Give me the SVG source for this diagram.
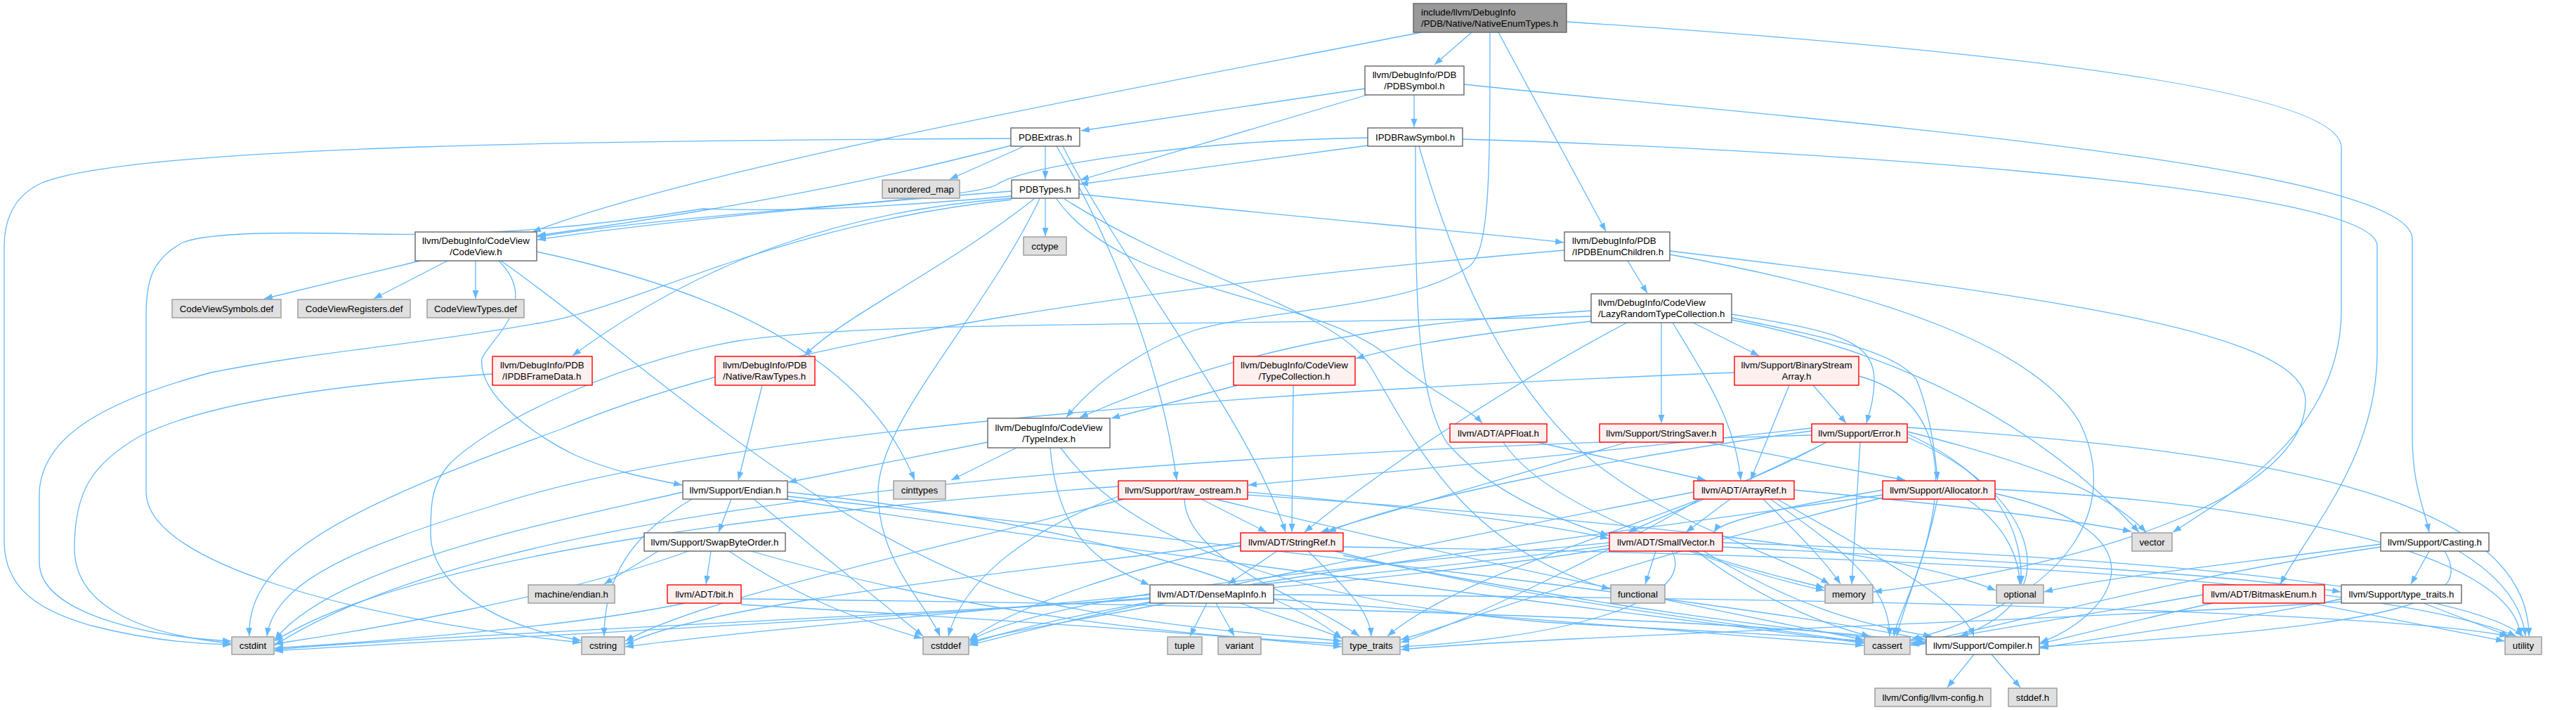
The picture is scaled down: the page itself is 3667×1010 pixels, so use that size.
<svg xmlns="http://www.w3.org/2000/svg" width="3667" height="1010" viewBox="0 0 3667 1010">
<style>
.e{fill:none;stroke:#63b8ff;stroke-width:1.3;marker-end:url(#a)}
.w{fill:#ffffff;stroke:#666666;stroke-width:1.4}
.g{fill:#e0e0e0;stroke:#999999;stroke-width:1.4}
.r{fill:#fff0f0;stroke:#ff0000;stroke-width:1.4}
.m{fill:#999999;stroke:#666666;stroke-width:1.4}
text{font-family:"Liberation Sans",Arial,sans-serif;font-size:13.3px;fill:#000000;text-anchor:middle}
text.l{text-anchor:start}
</style>
<defs>
<marker id="a" markerWidth="12" markerHeight="9" refX="12" refY="4.5" orient="auto" markerUnits="userSpaceOnUse"><path d="M0,0L12,4.5L0,9z" fill="#63b8ff"/></marker>
</defs>
<rect width="3667" height="1010" fill="#ffffff"/>
<g id="edges">
<path class="e" d="M2023,46 C1700,110 1000,235 758,330"/>
<path class="e" d="M2095,46 L2042,92"/>
<path class="e" d="M2121,46 C2121,250 2121,360 2090,380 C2000,440 1800,440 1700,470 C1640,490 1560,540 1518,594"/>
<path class="e" d="M2133,46 L2286,329"/>
<path class="e" d="M2230,31 C2600,55 3333,110 3333,210 L3333,440 C3333,600 3200,690 3093,757"/>
<path class="e" d="M1943,126 L1539,186"/>
<path class="e" d="M2013,135 L2013,181"/>
<path class="e" d="M1946,135 L1538,256"/>
<path class="e" d="M2084,120 C2500,165 3434,230 3434,340 L3434,620 C3434,690 3450,720 3458,757"/>
<path class="e" d="M1458,208 L1352,255"/>
<path class="e" d="M1488,208 L1488,255"/>
<path class="e" d="M1439,197 C900,200 200,205 60,260 C15,280 6,320 6,350 L6,770 C6,840 60,870 130,890 C200,908 270,916 329,917"/>
<path class="e" d="M1439,207 C1200,270 950,310 765,335"/>
<path class="e" d="M1504,208 C1570,320 1650,500 1675,683"/>
<path class="e" d="M1513,208 C1600,380 1780,600 1830,757"/>
<path class="e" d="M1947,207 L1537,262"/>
<path class="e" d="M1947,196 C1700,200 1460,235 1420,262 C1390,285 1000,300 765,337"/>
<path class="e" d="M2015,208 C2015,420 2015,560 2060,630 C2120,700 2220,740 2290,762"/>
<path class="e" d="M2020,208 C2080,420 2160,560 2260,650 C2380,750 2540,790 2604,831"/>
<path class="e" d="M2082,198 C2500,210 3384,260 3384,350 L3384,500 C3384,650 3290,750 3246,831"/>
<path class="e" d="M1488,282 L1488,336"/>
<path class="e" d="M1440,272 C1200,290 900,320 765,341"/>
<path class="e" d="M1536,276 C1800,305 2100,330 2226,345"/>
<path class="e" d="M1440,282 C1200,300 1000,370 815,506"/>
<path class="e" d="M1472,283 C1350,380 1200,450 1145,506"/>
<path class="e" d="M1504,283 C1600,420 1880,420 1980,510 C2040,560 2090,580 2110,602"/>
<path class="e" d="M1515,283 C1700,400 1900,440 1950,520 C2010,620 2080,780 2292,838"/>
<path class="e" d="M1440,284 C1100,320 900,440 765,460 C600,490 450,500 300,530 C150,570 60,620 56,700 L56,800 C56,870 200,905 329,912"/>
<path class="e" d="M1440,279 C1200,300 1100,300 1000,297 C800,330 650,335 530,333 C400,330 300,330 260,345 C215,370 208,400 208,450 L208,700 C208,800 500,880 827,914"/>
<path class="e" d="M1480,283 C1400,450 1250,600 1250,700 C1250,800 1320,860 1338,905"/>
<path class="e" d="M598,371 L376,425"/>
<path class="e" d="M637,371 L532,425"/>
<path class="e" d="M677,371 L677,425"/>
<path class="e" d="M710,371 C770,430 700,480 686,510 C680,560 760,620 820,648 C870,670 920,680 971,690"/>
<path class="e" d="M713,371 C900,500 1200,790 1500,860 C1700,900 1850,905 1910,912"/>
<path class="e" d="M764,358 C960,400 1220,480 1302,683"/>
<path class="e" d="M701,532 C500,545 300,570 200,620 C130,660 106,700 106,780 C106,870 220,905 329,915"/>
<path class="e" d="M1085,548 L1051,683"/>
<path class="e" d="M2317,371 L2345,417"/>
<path class="e" d="M2227,356 C1700,400 1100,480 800,610 C500,720 350,790 355,905"/>
<path class="e" d="M2377,357 C2900,420 3282,470 3282,570 C3282,700 3000,800 2667,842"/>
<path class="e" d="M2377,362 C2700,420 2900,500 2960,600 C3020,720 2950,850 2720,910"/>
<path class="e" d="M2265,457 C2100,475 2000,490 1930,510"/>
<path class="e" d="M2265,442 C2000,460 1800,480 1537,594"/>
<path class="e" d="M2316,459 C2200,520 2000,640 1857,757"/>
<path class="e" d="M2365,459 L2365,602"/>
<path class="e" d="M2381,459 C2430,540 2470,600 2478,683"/>
<path class="e" d="M2410,459 L2504,506"/>
<path class="e" d="M2465,447 C2600,470 2668,480 2668,540 C2668,570 2660,590 2657,602"/>
<path class="e" d="M2465,452 C2600,480 2700,500 2728,540 C2745,580 2755,640 2758,683"/>
<path class="e" d="M2465,455 C2700,500 2900,600 3045,757"/>
<path class="e" d="M2265,450 C1700,465 1250,455 1050,485 C880,515 700,600 640,660 C613,690 613,720 613,760 C613,830 700,890 827,911"/>
<path class="e" d="M1762,548 L1582,595"/>
<path class="e" d="M1841,548 L1839,757"/>
<path class="e" d="M2547,548 L2492,683"/>
<path class="e" d="M2581,548 L2628,602"/>
<path class="e" d="M2469,530 C1700,560 1000,620 700,720 C500,780 390,830 380,905"/>
<path class="e" d="M2646,535 C2740,560 2780,640 2740,780 C2720,850 2700,880 2696,905"/>
<path class="e" d="M1406,629 C1300,650 1200,670 1122,686"/>
<path class="e" d="M1447,637 L1354,683"/>
<path class="e" d="M1495,637 C1505,760 1560,800 1636,832"/>
<path class="e" d="M1510,637 C1620,790 1900,860 2200,885 C2450,900 2600,905 2653,912"/>
<path class="e" d="M1041,710 L1023,757"/>
<path class="e" d="M972,700 C800,740 480,800 391,910"/>
<path class="e" d="M985,710 C900,760 860,820 860,905"/>
<path class="e" d="M1073,710 L1314,905"/>
<path class="e" d="M1121,700 C1500,740 1800,820 1910,908"/>
<path class="e" d="M1118,710 C1700,800 2400,880 2653,915"/>
<path class="e" d="M1121,706 C1800,780 2500,860 2741,910"/>
<path class="e" d="M937,784 L860,831"/>
<path class="e" d="M1012,784 L1005,831"/>
<path class="e" d="M1038,784 C1150,860 1250,890 1313,908"/>
<path class="e" d="M980,784 C800,850 500,900 391,916"/>
<path class="e" d="M1069,784 C1400,880 1700,905 1910,916"/>
<path class="e" d="M975,858 C800,895 500,915 391,922"/>
<path class="e" d="M1055,860 C1400,880 1700,900 1910,920"/>
<path class="e" d="M1055,852 C1800,860 2500,880 2741,914"/>
<path class="e" d="M1710,710 L1803,757"/>
<path class="e" d="M1776,700 C2000,720 2200,745 2290,766"/>
<path class="e" d="M1592,706 C1450,760 1370,830 1350,905"/>
<path class="e" d="M1592,692 C1200,720 600,780 391,912"/>
<path class="e" d="M1600,710 C1300,790 1000,850 890,912"/>
<path class="e" d="M1686,710 C1690,800 1860,850 1935,905"/>
<path class="e" d="M1730,710 C2100,800 2500,880 2653,910"/>
<path class="e" d="M1776,704 C2300,740 2700,780 2841,840"/>
<path class="e" d="M1818,784 L1748,831"/>
<path class="e" d="M1862,784 C1920,840 1950,870 1952,905"/>
<path class="e" d="M1900,784 C2200,860 2500,890 2653,914"/>
<path class="e" d="M1912,790 C2300,870 2600,900 2741,916"/>
<path class="e" d="M1766,776 C1600,810 1450,860 1380,910"/>
<path class="e" d="M1766,772 C1400,820 1000,860 890,917"/>
<path class="e" d="M1912,778 C2800,790 3400,830 3582,905"/>
<path class="e" d="M1718,858 L1694,905"/>
<path class="e" d="M1731,858 L1757,905"/>
<path class="e" d="M1660,858 C1550,880 1420,900 1380,914"/>
<path class="e" d="M1637,852 C1200,880 600,905 391,924"/>
<path class="e" d="M1765,858 C1830,880 1880,895 1910,908"/>
<path class="e" d="M1813,852 C2200,880 2500,905 2653,918"/>
<path class="e" d="M1813,846 C2600,850 3400,870 3570,905"/>
<path class="e" d="M2357,784 L2342,831"/>
<path class="e" d="M2404,784 C2480,810 2550,830 2597,840"/>
<path class="e" d="M2415,784 C2500,850 2600,890 2662,905"/>
<path class="e" d="M2425,784 C2550,860 2650,890 2750,905"/>
<path class="e" d="M2380,784 C2420,860 2200,910 1994,920"/>
<path class="e" d="M2291,772 C2000,800 1500,840 1380,912"/>
<path class="e" d="M2291,776 C1900,830 1200,880 890,920"/>
<path class="e" d="M2291,780 C1800,860 800,900 391,926"/>
<path class="e" d="M2452,772 C3000,790 3500,830 3592,905"/>
<path class="e" d="M2452,778 C2900,800 3200,820 3332,842"/>
<path class="e" d="M2600,629 C2500,680 2400,720 2318,757"/>
<path class="e" d="M2579,613 C2300,650 2000,710 1890,757"/>
<path class="e" d="M2648,629 L2636,831"/>
<path class="e" d="M2715,622 C2900,700 2950,850 2790,905"/>
<path class="e" d="M2715,617 C2850,680 2880,760 2877,831"/>
<path class="e" d="M2715,608 C3200,640 3600,700 3600,905"/>
<path class="e" d="M2715,614 C2900,660 3000,700 3055,757"/>
<path class="e" d="M2600,629 C2400,740 2100,800 1975,905"/>
<path class="e" d="M2579,609 C2300,640 2000,670 1777,690"/>
<path class="e" d="M2579,619 C1500,650 700,720 391,918"/>
<path class="e" d="M2680,697 C2550,720 2450,740 2440,757"/>
<path class="e" d="M2758,710 C2740,800 2710,860 2700,905"/>
<path class="e" d="M2800,710 C2860,750 2875,800 2875,831"/>
<path class="e" d="M2840,696 C3300,720 3580,800 3588,905"/>
<path class="e" d="M2840,702 C3100,760 3000,880 2904,914"/>
<path class="e" d="M2680,704 C2300,760 1600,840 1380,916"/>
<path class="e" d="M2680,708 C2300,800 2100,880 1994,910"/>
<path class="e" d="M2463,710 L2400,757"/>
<path class="e" d="M2510,710 C2560,760 2600,800 2620,831"/>
<path class="e" d="M2520,710 C2620,780 2690,830 2690,905"/>
<path class="e" d="M2530,710 C2650,780 2790,850 2810,905"/>
<path class="e" d="M2554,697 C2800,720 2950,740 3034,756"/>
<path class="e" d="M2420,710 C2300,780 2100,880 1994,914"/>
<path class="e" d="M2411,700 C2100,760 1600,860 1380,918"/>
<path class="e" d="M2316,629 L1880,757"/>
<path class="e" d="M2430,629 L2712,683"/>
<path class="e" d="M2188,629 L2428,683"/>
<path class="e" d="M2140,629 C2200,720 2400,790 2597,836"/>
<path class="e" d="M3458,784 L3432,831"/>
<path class="e" d="M3389,774 C3200,800 3000,820 2910,842"/>
<path class="e" d="M3389,778 C3100,820 2900,880 2720,916"/>
<path class="e" d="M3480,784 C3520,850 3450,890 2904,920"/>
<path class="e" d="M3500,784 C3560,820 3590,860 3595,905"/>
<path class="e" d="M3136,846 C3000,870 2800,900 2720,918"/>
<path class="e" d="M3290,858 L3565,912"/>
<path class="e" d="M3150,858 C3050,880 2950,905 2904,916"/>
<path class="e" d="M3450,858 L3572,905"/>
<path class="e" d="M3333,852 C3200,880 3000,905 2904,922"/>
<path class="e" d="M3333,856 C3000,880 2200,905 1994,924"/>
<path class="e" d="M2810,931 L2772,978"/>
<path class="e" d="M2835,931 L2876,978"/>
</g>
<g id="n_main"><rect class="m" x="2012" y="5" width="218" height="41"/><text class="l" x="2023" y="22">include/llvm/DebugInfo</text><text class="l" x="2023" y="38">/PDB/Native/NativeEnumTypes.h</text></g>
<g id="n_pdbsymbol"><rect class="w" x="1943" y="94" width="141" height="41"/><text x="2013.5" y="111">llvm/DebugInfo/PDB</text><text x="2013.5" y="127">/PDBSymbol.h</text></g>
<g id="n_pdbextras"><rect class="w" x="1439" y="182" width="98" height="26"/><text x="1488" y="199.7">PDBExtras.h</text></g>
<g id="n_ipdbrawsymbol"><rect class="w" x="1947" y="182" width="135" height="26"/><text x="2014.5" y="199.7">IPDBRawSymbol.h</text></g>
<g id="n_pdbtypes"><rect class="w" x="1440" y="256" width="96" height="26"/><text x="1488" y="273.7">PDBTypes.h</text></g>
<g id="n_unordered_map"><rect class="g" x="1256" y="256" width="110" height="26"/><text x="1311" y="273.7">unordered_map</text></g>
<g id="n_codeview"><rect class="w" x="591" y="330" width="173" height="41"/><text x="677.5" y="347">llvm/DebugInfo/CodeView</text><text x="677.5" y="363">/CodeView.h</text></g>
<g id="n_ipdbenumchildren"><rect class="w" x="2227" y="330" width="150" height="41"/><text class="l" x="2238" y="347">llvm/DebugInfo/PDB</text><text class="l" x="2238" y="363">/IPDBEnumChildren.h</text></g>
<g id="n_cctype"><rect class="g" x="1457" y="337" width="61" height="26"/><text x="1487.5" y="354.7">cctype</text></g>
<g id="n_cvsymbols"><rect class="g" x="245" y="426" width="155" height="26"/><text x="322.5" y="443.7">CodeViewSymbols.def</text></g>
<g id="n_cvregisters"><rect class="g" x="424" y="426" width="160" height="26"/><text x="504" y="443.7">CodeViewRegisters.def</text></g>
<g id="n_cvtypes"><rect class="g" x="608" y="426" width="138" height="26"/><text x="677" y="443.7">CodeViewTypes.def</text></g>
<g id="n_lazyrandom"><rect class="w" x="2265" y="418" width="200" height="41"/><text class="l" x="2275" y="435">llvm/DebugInfo/CodeView</text><text class="l" x="2275" y="451">/LazyRandomTypeCollection.h</text></g>
<g id="n_ipdbframedata"><rect class="r" x="701" y="507" width="142" height="41"/><text class="l" x="712" y="524">llvm/DebugInfo/PDB</text><text class="l" x="715" y="540">/IPDBFrameData.h</text></g>
<g id="n_rawtypes"><rect class="r" x="1018" y="507" width="142" height="41"/><text class="l" x="1029" y="524">llvm/DebugInfo/PDB</text><text class="l" x="1029" y="540">/Native/RawTypes.h</text></g>
<g id="n_typecollection"><rect class="r" x="1756" y="507" width="173" height="41"/><text x="1842.5" y="524">llvm/DebugInfo/CodeView</text><text x="1842.5" y="540">/TypeCollection.h</text></g>
<g id="n_binarystreamarray"><rect class="r" x="2469" y="507" width="177" height="41"/><text x="2557.5" y="524">llvm/Support/BinaryStream</text><text x="2557.5" y="540">Array.h</text></g>
<g id="n_typeindex"><rect class="w" x="1406" y="595" width="174" height="42"/><text x="1493" y="612.5">llvm/DebugInfo/CodeView</text><text x="1493" y="628.5">/TypeIndex.h</text></g>
<g id="n_apfloat"><rect class="r" x="2064" y="603" width="138" height="26"/><text x="2133" y="620.7">llvm/ADT/APFloat.h</text></g>
<g id="n_stringsaver"><rect class="r" x="2277" y="603" width="176" height="26"/><text x="2365" y="620.7">llvm/Support/StringSaver.h</text></g>
<g id="n_error"><rect class="r" x="2579" y="603" width="136" height="26"/><text x="2647" y="620.7">llvm/Support/Error.h</text></g>
<g id="n_endian"><rect class="w" x="972" y="684" width="149" height="26"/><text x="1046.5" y="701.7">llvm/Support/Endian.h</text></g>
<g id="n_cinttypes"><rect class="g" x="1272" y="684" width="74" height="26"/><text x="1309" y="701.7">cinttypes</text></g>
<g id="n_raw_ostream"><rect class="r" x="1592" y="684" width="184" height="26"/><text x="1684" y="701.7">llvm/Support/raw_ostream.h</text></g>
<g id="n_arrayref"><rect class="r" x="2411" y="684" width="143" height="26"/><text x="2482.5" y="701.7">llvm/ADT/ArrayRef.h</text></g>
<g id="n_allocator"><rect class="r" x="2680" y="684" width="160" height="26"/><text x="2760" y="701.7">llvm/Support/Allocator.h</text></g>
<g id="n_swapbyteorder"><rect class="w" x="917" y="758" width="201" height="26"/><text x="1017.5" y="775.7">llvm/Support/SwapByteOrder.h</text></g>
<g id="n_stringref"><rect class="r" x="1766" y="758" width="146" height="26"/><text x="1839" y="775.7">llvm/ADT/StringRef.h</text></g>
<g id="n_smallvector"><rect class="r" x="2291" y="758" width="161" height="26"/><text x="2371.5" y="775.7">llvm/ADT/SmallVector.h</text></g>
<g id="n_vector"><rect class="g" x="3035" y="758" width="57" height="26"/><text x="3063.5" y="775.7">vector</text></g>
<g id="n_casting"><rect class="w" x="3389" y="758" width="154" height="26"/><text x="3466" y="775.7">llvm/Support/Casting.h</text></g>
<g id="n_machine_endian"><rect class="g" x="752" y="832" width="123" height="26"/><text x="813.5" y="849.7">machine/endian.h</text></g>
<g id="n_bit"><rect class="r" x="950" y="832" width="105" height="26"/><text x="1002.5" y="849.7">llvm/ADT/bit.h</text></g>
<g id="n_densemapinfo"><rect class="w" x="1637" y="832" width="176" height="26"/><text x="1725" y="849.7">llvm/ADT/DenseMapInfo.h</text></g>
<g id="n_functional"><rect class="g" x="2293" y="832" width="77" height="26"/><text x="2331.5" y="849.7">functional</text></g>
<g id="n_memory"><rect class="g" x="2598" y="832" width="68" height="26"/><text x="2632" y="849.7">memory</text></g>
<g id="n_optional"><rect class="g" x="2842" y="832" width="67" height="26"/><text x="2875.5" y="849.7">optional</text></g>
<g id="n_bitmaskenum"><rect class="r" x="3136" y="832" width="173" height="26"/><text x="3222.5" y="849.7">llvm/ADT/BitmaskEnum.h</text></g>
<g id="n_support_type_traits"><rect class="w" x="3333" y="832" width="171" height="26"/><text x="3418.5" y="849.7">llvm/Support/type_traits.h</text></g>
<g id="n_cstdint"><rect class="g" x="330" y="906" width="60" height="25"/><text x="360" y="923.2">cstdint</text></g>
<g id="n_cstring"><rect class="g" x="828" y="906" width="61" height="25"/><text x="858.5" y="923.2">cstring</text></g>
<g id="n_cstddef"><rect class="g" x="1314" y="906" width="65" height="25"/><text x="1346.5" y="923.2">cstddef</text></g>
<g id="n_tuple"><rect class="g" x="1662" y="906" width="49" height="25"/><text x="1686.5" y="923.2">tuple</text></g>
<g id="n_variant"><rect class="g" x="1734" y="906" width="61" height="25"/><text x="1764.5" y="923.2">variant</text></g>
<g id="n_type_traits"><rect class="g" x="1911" y="906" width="82" height="25"/><text x="1952" y="923.2">type_traits</text></g>
<g id="n_cassert"><rect class="g" x="2654" y="906" width="65" height="25"/><text x="2686.5" y="923.2">cassert</text></g>
<g id="n_compiler"><rect class="w" x="2742" y="906" width="161" height="25"/><text x="2822.5" y="923.2">llvm/Support/Compiler.h</text></g>
<g id="n_utility"><rect class="g" x="3566" y="906" width="52" height="25"/><text x="3592" y="923.2">utility</text></g>
<g id="n_llvm_config"><rect class="g" x="2669" y="979" width="165" height="26"/><text x="2751.5" y="996.7">llvm/Config/llvm-config.h</text></g>
<g id="n_stddef"><rect class="g" x="2859" y="979" width="69" height="26"/><text x="2893.5" y="996.7">stddef.h</text></g>
</svg>
